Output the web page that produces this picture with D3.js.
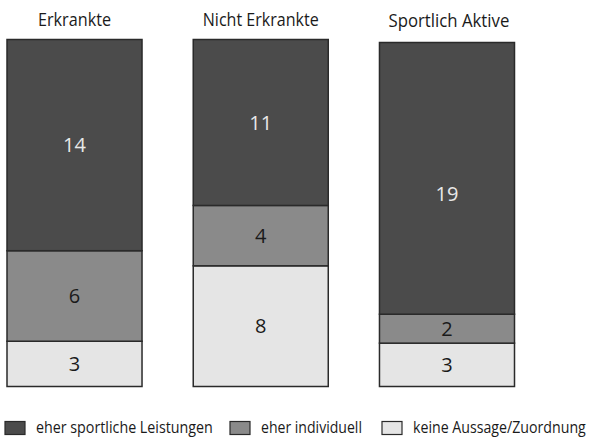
<!DOCTYPE html>
<html><head><meta charset="utf-8">
<script src="https://cdn.jsdelivr.net/npm/d3@7"></script>
<style>body{margin:0;background:#fff}svg{display:block}text{font-family:"Open Sans",sans-serif}</style>
</head><body><svg id="c" width="591" height="438"></svg>
<script>
const categories = ["Erkrankte", "Nicht Erkrankte", "Sportlich Aktive"];
const seriesNames = ["eher sportliche Leistungen", "eher individuell", "keine Aussage/Zuordnung"];
const sportlich = [14, 11, 19];
const individuell = [6, 4, 2];
const keine = [3, 8, 3];
const colors = ["#4b4b4b", "#8a8a8a", "#e5e5e5"];
const labelColors = ["#e8e8e8", "#1a1a1a", "#1a1a1a"];

const rows = categories.map((c, i) => ({cat: c, s0: sportlich[i], s1: individuell[i], s2: keine[i]}));
const keys = ["s2", "s1", "s0"];
const keyIdx = {s0: 0, s1: 1, s2: 2};
const stack = d3.stack().keys(keys).offset(d3.stackOffsetExpand);
const layers = stack(rows);

const svg = d3.select("#c");
const x = d3.scaleBand().domain(categories).range([7, 514.5]).paddingInner(0.275).paddingOuter(0);
const y = d3.scaleLinear().domain([0, 1]).range([386.5, 39.5]);

// condensed text helper: scales glyphs horizontally to a target width
function condensedText(sel, str, px, py, size, width, anchor) {
  const t = sel.append("text").attr("font-size", size).attr("fill", "#1a1a1a").text(str);
  const natural = t.node().getComputedTextLength();
  const sx = Math.min(1, width / natural);
  const x0 = anchor === "middle" ? px - width / 2 : px;
  t.attr("transform", `translate(${x0},${py}) scale(${sx},1)`);
  return t;
}

const g = svg.append("g");
layers.forEach(layer => {
  const k = keyIdx[layer.key];
  layer.forEach((d, i) => {
    const val = d.data[layer.key];
    const top = (i === 2 && k === 0) ? y(d[1]) + 3 : y(d[1]);
    g.append("rect")
      .attr("x", x(d.data.cat)).attr("width", x.bandwidth())
      .attr("y", top).attr("height", y(d[0]) - top)
      .attr("fill", colors[k]).attr("stroke", "#2a2a2a").attr("stroke-width", 1.5);
    const ly = (y(d[0]) + y(d[1])) / 2 + ((i === 2 && k === 0) ? 17 : 0);
    g.append("text")
      .attr("x", x(d.data.cat) + x.bandwidth() / 2)
      .attr("y", ly)
      .attr("dy", "0.36em")
      .attr("text-anchor", "middle")
      .attr("font-size", 20)
      .attr("fill", labelColors[k])
      .text(val);
  });
});

const titleWidths = [73, 116, 121];
categories.forEach((c, i) => {
  condensedText(svg, c, x(c) + x.bandwidth() / 2 + (i === 2 ? 2 : 0), i === 2 ? 27 : 26, 18.5, titleWidths[i], "middle");
});

const legX = [5, 230, 382];
const legTextW = [177, 101, 173];
seriesNames.forEach((s, i) => {
  svg.append("rect").attr("x", legX[i]).attr("y", 421.5).attr("width", 20).attr("height", 13)
    .attr("fill", colors[i]).attr("stroke", "#2a2a2a").attr("stroke-width", 1.2);
  condensedText(svg, s, legX[i] + 31, 433, 17, legTextW[i], "start");
});
</script></body></html>
